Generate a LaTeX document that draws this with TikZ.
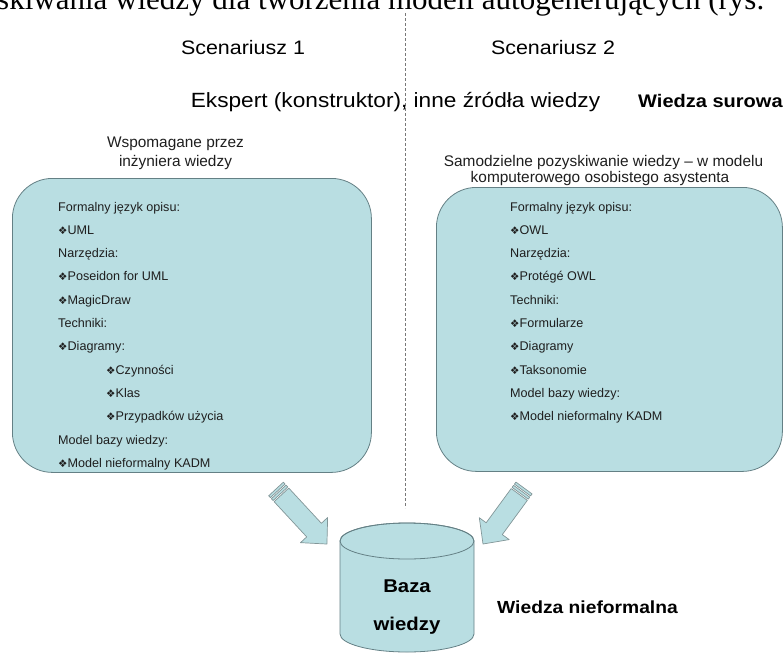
\documentclass[tikz,border=0pt]{standalone}
\usepackage{fontspec}
\setmainfont{Liberation Sans}
\newfontfamily\wideface[FakeStretch=1.1]{Liberation Sans}
\newfontfamily\bulletface{DejaVu Sans}
\newfontfamily\leadface{Liberation Serif}

\definecolor{panel}{RGB}{185,222,226}
\definecolor{panelline}{RGB}{100,128,133}
\definecolor{arrowline}{RGB}{130,150,152}
\definecolor{ink}{RGB}{30,30,30}
\definecolor{divgray}{RGB}{120,120,120}

% diamond bullet used in the lists
\newcommand{\dia}{{\bulletface\fontsize{10.5}{11}\selectfont ❖}}

\tikzset{
  panelbox/.style={draw=panelline, line width=0.8pt, fill=panel, rounded corners=40pt,
                   inner sep=0pt, anchor=north west},
  item/.style={anchor=base west, inner sep=0pt, font=\fontsize{12.6}{14}\selectfont, text=ink},
  head/.style={anchor=base, inner sep=0pt, font=\wideface\fontsize{19.5}{22}\selectfont},
  sub/.style={anchor=base, inner sep=0pt, font=\fontsize{15.4}{18}\selectfont, text=ink},
  boldlabel/.style={anchor=base west, inner sep=0pt, font=\wideface\bfseries\fontsize{17.5}{20}\selectfont},
  dbtext/.style={anchor=base, inner sep=0pt, font=\wideface\bfseries\fontsize{18.5}{20}\selectfont},
  divider/.style={draw=divgray, line width=0.7pt, dash pattern=on 3pt off 2pt},
  blockarrow/.style={draw=arrowline, line width=0.7pt, fill=panel, line join=round},
}

\begin{document}
\begin{tikzpicture}[x=1pt, y=-1pt]
\useasboundingbox (0,0) rectangle (784,656);

% running text of the page above the figure
\node[anchor=base west, inner sep=0pt, font=\leadface\fontsize{31}{31}\selectfont]
  (lead) at (-3,9) {skiwania wiedzy dla tworzenia modeli autogenerujących (rys.};

% vertical divider between the two scenarios
\coordinate (divtop) at (405,13);
\coordinate (divbot) at (405,508);
\draw[divider] (divtop) -- (divbot);

% headings
\node[head] (sc1) at (243,54) {Scenariusz 1};
\node[head] (sc2) at (553,54) {Scenariusz 2};
\node[head, font=\wideface\fontsize{20.6}{24}\selectfont] (src) at (395.5,107)
  {Ekspert (konstruktor), inne źródła wiedzy};
\node[boldlabel, font=\wideface\bfseries\fontsize{18.2}{20}\selectfont] (raw) at (638,107) {Wiedza surowa};

% scenario 1
\node[sub] (sub1a) at (175.5,147) {Wspomagane przez};
\node[sub] (sub1b) at (175.5,166.5) {inżyniera wiedzy};
\node[panelbox, minimum width=359pt, minimum height=294pt] (box1) at (12,178) {};
\foreach \xx/\txt [count=\i from 0] in {
  58/Formalny język opisu:,
  58/\dia UML,
  58/Narzędzia:,
  58/\dia Poseidon for UML,
  58/\dia MagicDraw,
  58/Techniki:,
  58/\dia Diagramy:,
  106/\dia Czynności,
  106/\dia Klas,
  106/\dia Przypadków użycia,
  58/Model bazy wiedzy:,
  58/\dia Model nieformalny KADM}
  \node[item] (s1-\i) at (\xx, 211+23.3*\i) {\txt};

% scenario 2
\node[sub] (sub2a) at (603.5,166.5) {Samodzielne pozyskiwanie wiedzy – w modelu};
\node[sub] (sub2b) at (600,182) {komputerowego osobistego asystenta};
\node[panelbox, minimum width=346pt, minimum height=284pt] (box2) at (436,187) {};
\foreach \txt [count=\i from 0] in {
  Formalny język opisu:,
  \dia OWL,
  Narzędzia:,
  \dia Protégé OWL,
  Techniki:,
  \dia Formularze,
  \dia Diagramy,
  \dia Taksonomie,
  Model bazy wiedzy:,
  \dia Model nieformalny KADM}
  \node[item] (s2-\i) at (510, 211+23.3*\i) {\txt};

% knowledge base cylinder
\coordinate (db) at (407,541);
\path[fill=panel, draw=panelline, line width=0.8pt]
  (340,541) -- (340,634) arc[start angle=180, end angle=360, x radius=67pt, y radius=18pt]
  -- (474,541) arc[start angle=0, end angle=180, x radius=67pt, y radius=18pt] -- cycle;
\draw[panelline, line width=0.8pt] (db) ellipse[x radius=67pt, y radius=18pt];
\node[dbtext] (db1) at (407,592) {Baza};
\node[dbtext] (db2) at (407,630) {wiedzy};
\node[boldlabel] (informal) at (497,613) {Wiedza nieformalna};

% striped block arrows from the two scenarios into the base
\coordinate (a1tail) at (276,489);
\coordinate (a1tip) at (327,543);
\coordinate (a2tail) at (524,488);
\coordinate (a2tip) at (483,544);
\begin{scope}[shift={(a1tail)}, rotate=-47.2]
  \draw[blockarrow] (0,-10) rectangle (2.5,10);
  \draw[blockarrow] (4,-10) rectangle (6.5,10);
  \draw[blockarrow] (8,-10) -- (56,-10) -- (56,-18.5) -- (75,0) -- (56,18.5) -- (56,10) -- (8,10) -- cycle;
\end{scope}
\begin{scope}[shift={(a2tail)}, rotate=-126.2]
  \draw[blockarrow] (0,-10) rectangle (2.5,10);
  \draw[blockarrow] (4,-10) rectangle (6.5,10);
  \draw[blockarrow] (8,-10) -- (50.4,-10) -- (50.4,-18.5) -- (69.4,0) -- (50.4,18.5) -- (50.4,10) -- (8,10) -- cycle;
\end{scope}
\end{tikzpicture}
\end{document}
